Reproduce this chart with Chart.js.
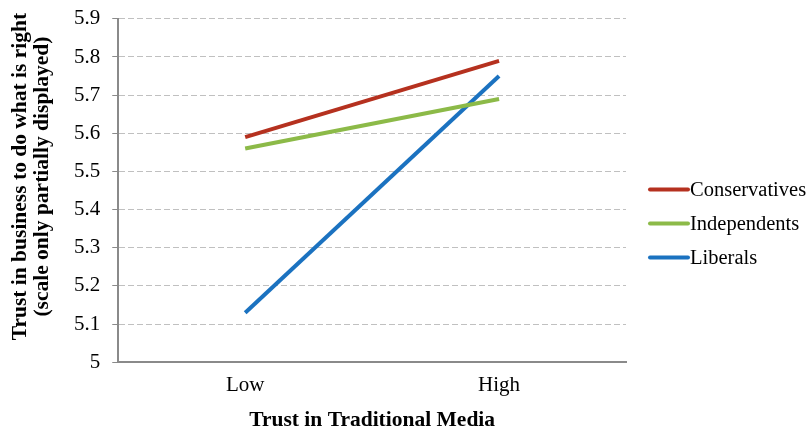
<!DOCTYPE html>
<html>
<head>
<meta charset="utf-8">
<script src="https://cdn.jsdelivr.net/npm/chart.js@4.4.1/dist/chart.umd.min.js"></script>
<style>
  html, body { margin: 0; padding: 0; background: #ffffff; }
  #wrap { width: 809px; height: 431px; position: relative; }
</style>
</head>
<body>
<div id="wrap"><canvas id="c"></canvas></div>
<script>
// Categories on the x axis
const categories = ['Low', 'High'];

// Mean trust in business, by political group
const conservatives = [5.59, 5.79];
const independents = [5.56, 5.69];
const liberals = [5.13, 5.75];

// Y axis tick values (scale only partially displayed)
const yTickValues = [5, 5.1, 5.2, 5.3, 5.4, 5.5, 5.6, 5.7, 5.8, 5.9];

const seriesNames = ['Conservatives', 'Independents', 'Liberals'];
const seriesColors = ['#b5311f', '#8cba48', '#1b72c0'];

const yTitleLines = ['Trust in business to do what is right', '(scale only partially displayed)'];

const FONT = "'Liberation Serif', 'Times New Roman', serif";

// Legend drawn beside the plot: short line sample followed by the series name
const sideLegend = {
  id: 'sideLegend',
  afterDraw(chart) {
    const ctx = chart.ctx;
    const area = chart.chartArea;
    const x0 = area.right + 24;
    const lineLen = 38;
    const gap = 34;
    const n = chart.data.datasets.length;
    const yMid = chart.height / 2 + 8;
    ctx.save();
    ctx.font = '20.5px ' + FONT;
    ctx.textBaseline = 'middle';
    ctx.textAlign = 'left';
    chart.data.datasets.forEach((ds, i) => {
      const y = yMid + (i - (n - 1) / 2) * gap;
      ctx.strokeStyle = ds.borderColor;
      ctx.lineWidth = ds.borderWidth;
      ctx.lineCap = 'round';
      ctx.beginPath();
      ctx.moveTo(x0, y);
      ctx.lineTo(x0 + lineLen, y);
      ctx.stroke();
      ctx.fillStyle = '#000000';
      ctx.fillText(ds.label, x0 + lineLen + 2, y + 1);
    });
    ctx.restore();
  }
};

// Two-line rotated title for the value axis, set a little above the plot's middle
const yAxisTitle = {
  id: 'yAxisTitle',
  afterDraw(chart) {
    const ctx = chart.ctx;
    const area = chart.chartArea;
    const cy = (area.top + area.bottom) / 2 - 14;
    const xs = [20, 42];
    ctx.save();
    ctx.font = 'bold 21.5px ' + FONT;
    ctx.fillStyle = '#000000';
    ctx.textAlign = 'center';
    ctx.textBaseline = 'middle';
    yTitleLines.forEach((line, i) => {
      ctx.save();
      ctx.translate(xs[i], cy);
      ctx.rotate(-Math.PI / 2);
      ctx.fillText(line, 0, 0);
      ctx.restore();
    });
    ctx.restore();
  }
};

const seriesData = [conservatives, independents, liberals];

new Chart(document.getElementById('c'), {
  type: 'line',
  data: {
    labels: categories,
    datasets: seriesData.map((values, i) => ({
      label: seriesNames[i],
      data: values,
      borderColor: seriesColors[i],
      backgroundColor: seriesColors[i],
      borderWidth: 4,
      pointRadius: 0,
      pointHoverRadius: 0,
      tension: 0,
      fill: false
    }))
  },
  options: {
    responsive: true,
    maintainAspectRatio: false,
    animation: false,
    events: [],
    layout: { padding: { top: 2, right: 183, bottom: 0, left: 62 } },
    plugins: {
      legend: { display: false },
      tooltip: { enabled: false }
    },
    scales: {
      x: {
        offset: true,
        grid: { display: false, drawTicks: false },
        border: { display: true, color: '#8a8a8a', width: 2 },
        ticks: { color: '#000000', padding: 11, font: { family: FONT, size: 21 } },
        title: {
          display: true,
          text: 'Trust in Traditional Media',
          color: '#000000',
          padding: { top: 0, bottom: 0 },
          font: { family: FONT, size: 21.5, weight: 'bold', lineHeight: 1.0 }
        }
      },
      y: {
        min: 5,
        max: 5.9,
        afterBuildTicks(axis) {
          axis.ticks = yTickValues.map(v => ({ value: v }));
        },
        grid: {
          color: '#c0c0c0',
          lineWidth: 1,
          drawTicks: true,
          tickLength: 6,
          tickColor: '#8a8a8a',
          tickWidth: 1
        },
        border: { display: true, color: '#8a8a8a', width: 2, dash: [6, 3] },
        ticks: {
          color: '#000000',
          padding: 12,
          font: { family: FONT, size: 21, lineHeight: 0.65 },
          callback: (v) => String(Number(v.toFixed(1)))
        },
        title: { display: false }
      }
    }
  },
  plugins: [sideLegend, yAxisTitle]
});
</script>
</body>
</html>
